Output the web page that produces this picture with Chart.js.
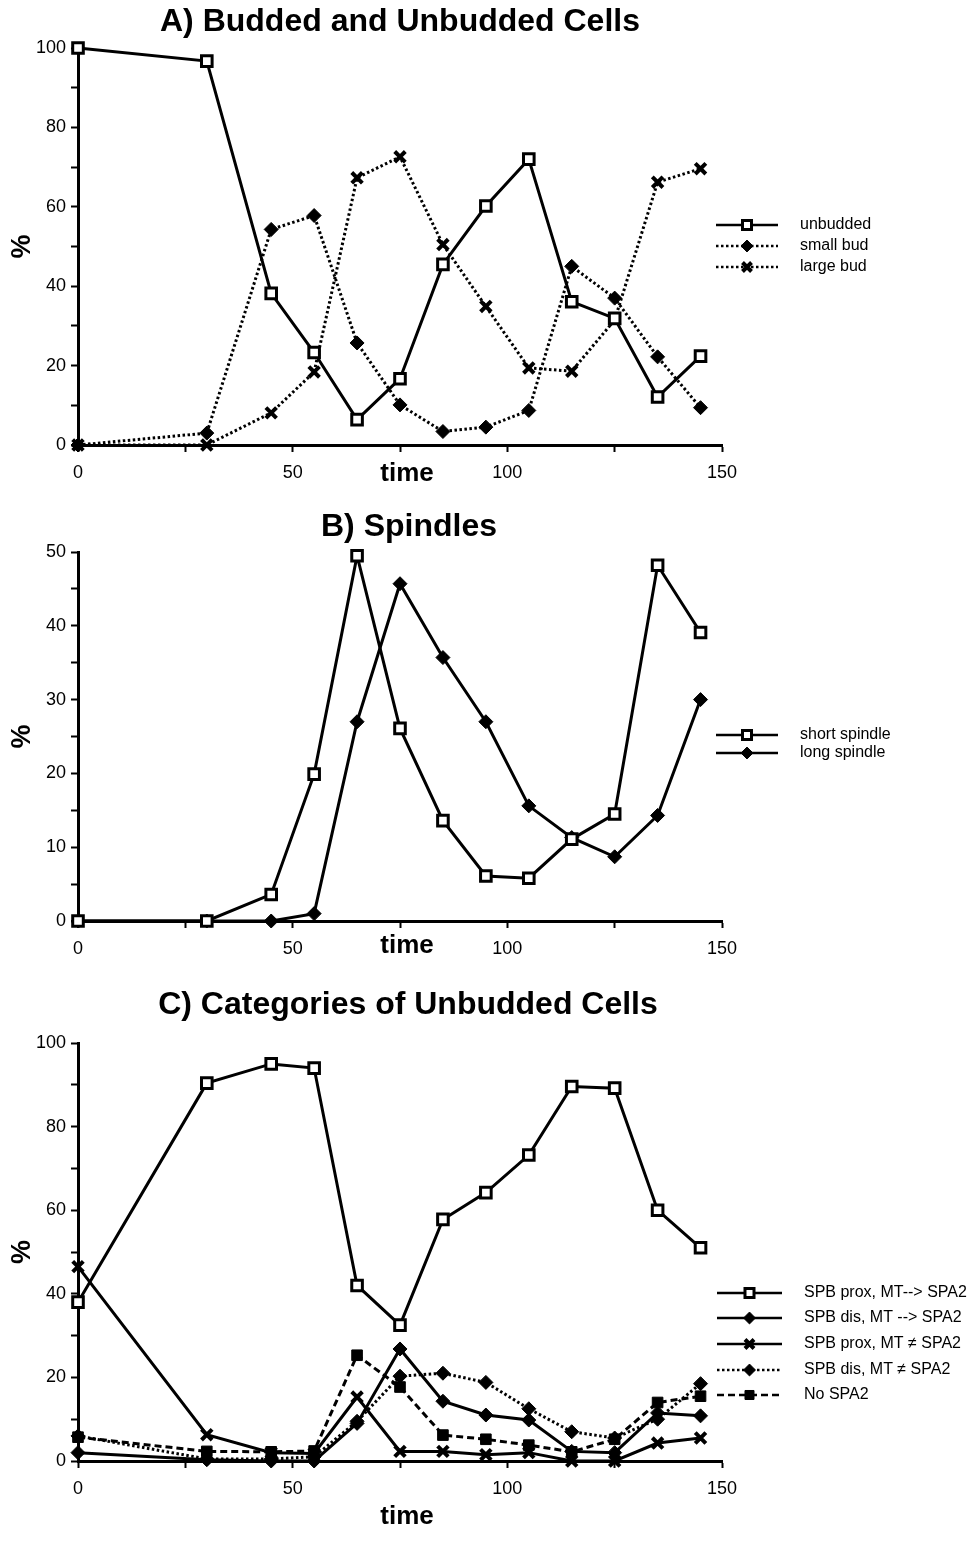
<!DOCTYPE html>
<html>
<head>
<meta charset="utf-8">
<script src="https://cdn.jsdelivr.net/npm/chart.js@4.4.1/dist/chart.umd.min.js"></script>
<style>
  html, body { margin: 0; padding: 0; background: #fff; }
  #wrap { position: relative; width: 969px; height: 1554px; }
  .panel { position: absolute; left: 0; width: 969px; }
</style>
</head>
<body>
<div id="wrap">
  <div class="panel" style="top:0;height:495px"><canvas id="chartA"></canvas></div>
  <div class="panel" style="top:495px;height:470px"><canvas id="chartB"></canvas></div>
  <div class="panel" style="top:965px;height:589px"><canvas id="chartC"></canvas></div>
</div>
<script>
// sampling times (min)
const times = [0, 30, 45, 55, 65, 75, 85, 95, 105, 115, 125, 135, 145];

// A) budded and unbudded cells (%)
const unbudded = [100, 96.7, 38.2, 23.3, 6.4, 16.7, 45.5, 60.2, 72, 36.1, 31.9, 12.1, 22.4];
const smallBud = [0, 3.0, 54.3, 57.8, 25.7, 10.1, 3.4, 4.5, 8.7, 45, 37, 22.2, 9.4];
const largeBud = [0, 0, 8.1, 18.4, 67.3, 72.6, 50.5, 34.9, 19.4, 18.6, 31.5, 66.2, 69.6];

// B) spindles (%)
const shortSpindle = [0, 0, 3.6, 19.9, 49.5, 26.1, 13.6, 6.1, 5.8, 11.1, 14.5, 48.2, 39.1];
const longSpindle = [0, 0, 0, 1.0, 27, 45.7, 35.7, 27, 15.6, 11.3, 8.7, 14.3, 30];

// C) categories of unbudded cells (%)
const proxToSpa2 = [38, 90.4, 95, 94, 42, 32.5, 57.8, 64.2, 73.2, 89.6, 89.2, 60, 51];
const disToSpa2 = [2, 0.3, 0, 0, 9, 26.8, 14.3, 11, 9.8, 2.3, 2, 11.5, 10.8];
const proxNotSpa2 = [46.5, 6.3, 2, 1.8, 15.3, 2.3, 2.3, 1.5, 2, 0, 0, 4.3, 5.5];
const disNotSpa2 = [6, 0.5, 0.5, 1, 9.5, 20.3, 21, 18.8, 12.5, 7, 5.5, 10, 18.5];
const noSpa2 = [5.7, 2.3, 2.2, 2.4, 25.3, 17.7, 6.2, 5.2, 3.8, 2.2, 5.2, 14, 15.5];

const xTicks = [0, 50, 100, 150];

const FONT = '"Liberation Sans", Arial, Helvetica, sans-serif';

function pts(vals) {
  return times.map((t, i) => ({ x: t, y: vals[i] }));
}

const MARK = {
  open:    { pointStyle: 'rect', pointRadius: 7.5, pointBorderWidth: 3, pointBackgroundColor: '#fff' },
  square:  { pointStyle: 'rect', pointRadius: 7.5, pointBorderWidth: 1, pointBackgroundColor: '#000' },
  diamond: { pointStyle: 'rectRot', pointRadius: 7, pointBorderWidth: 1, pointBackgroundColor: '#000' },
  cross:   { pointStyle: 'crossRot', pointRadius: 7.5, pointBorderWidth: 4, pointBackgroundColor: '#000' },
};
const DOTTED = [2.5, 2.5];
const DASHED = [7, 4];

function ds(label, vals, mark, dash) {
  return Object.assign({
    label,
    data: pts(vals),
    borderColor: '#000',
    borderWidth: 3,
    borderDash: dash || [],
    pointBorderColor: '#000',
    tension: 0,
    clip: false,
  }, MARK[mark]);
}

// title, "time" label and line+marker legend drawn on the canvas
const panelDecor = {
  id: 'panelDecor',
  afterDraw(chart, args, o) {
    const { ctx, chartArea } = chart;
    const cx = (chartArea.left + chartArea.right) / 2;
    ctx.save();
    ctx.fillStyle = '#000';
    ctx.textAlign = 'center';
    ctx.textBaseline = 'middle';
    ctx.font = 'bold 32px ' + FONT;
    ctx.fillText(o.title, cx + o.titleDx, o.titleY);
    ctx.font = 'bold 26px ' + FONT;
    ctx.fillText('time', cx + 7, chartArea.bottom + o.timeDy);

    chart.data.datasets.forEach((d, i) => {
      const y = o.legendY[i];
      ctx.strokeStyle = '#000';
      ctx.lineWidth = 2.5;
      ctx.setLineDash(d.borderDash || []);
      ctx.beginPath();
      ctx.moveTo(o.legendX0, y);
      ctx.lineTo(o.legendX1, y);
      ctx.stroke();
      ctx.setLineDash([]);
      ctx.fillStyle = d.pointBackgroundColor;
      ctx.strokeStyle = '#000';
      ctx.lineWidth = d.pointBorderWidth;
      Chart.helpers.drawPoint(ctx, {
        pointStyle: d.pointStyle, radius: d.pointRadius * 0.85, borderWidth: d.pointBorderWidth, rotation: 0
      }, (o.legendX0 + o.legendX1) / 2, y);
      ctx.fillStyle = '#000';
      ctx.textAlign = 'left';
      ctx.font = '16px ' + FONT;
      ctx.fillText(d.label, o.legendText, y);
    });
    ctx.restore();
  }
};

function makeChart(id, datasets, cfg) {
  return new Chart(document.getElementById(id), {
    type: 'line',
    data: { datasets },
    plugins: [panelDecor],
    options: {
      responsive: true,
      maintainAspectRatio: false,
      animation: false,
      events: [],
      layout: { padding: { top: cfg.top, right: 969 - 722, bottom: cfg.padBottom, left: 0 } },
      plugins: {
        legend: { display: false },
        tooltip: { enabled: false },
        panelDecor: cfg.decor,
      },
      scales: {
        x: {
          type: 'linear',
          min: 0,
          max: 150,
          afterFit: (s) => { s.height = 40; },
          ticks: {
            stepSize: 25,
            autoSkip: false,
            maxRotation: 0,
            color: '#000',
            padding: 10,
            font: { family: FONT, size: 18 },
            callback: (v) => (xTicks.includes(v) ? v : ''),
          },
          grid: { drawOnChartArea: false, tickLength: 7, tickWidth: 2, tickColor: '#000' },
          border: { color: '#000', width: 3 },
        },
        y: {
          min: 0,
          max: cfg.yMax,
          afterFit: (s) => { s.width = 78; },
          ticks: {
            stepSize: cfg.yStep,
            autoSkip: false,
            color: '#000',
            padding: 5,
            font: { family: FONT, size: 18 },
            callback: (v) => (v % cfg.yLabelEvery === 0 ? v : ''),
          },
          grid: { drawOnChartArea: false, tickLength: 7, tickWidth: 2, tickColor: '#000' },
          border: { color: '#000', width: 3 },
          title: {
            display: true,
            text: '%',
            color: '#000',
            font: { family: FONT, size: 27, weight: 'bold' },
            padding: { top: 6, bottom: 0 },
          },
        },
      },
    },
  });
}

makeChart('chartA', [
  ds('unbudded', unbudded, 'open'),
  ds('small bud', smallBud, 'diamond', DOTTED),
  ds('large bud', largeBud, 'cross', DOTTED),
], {
  top: 48, padBottom: 495 - 40 - 445, yMax: 100, yStep: 10, yLabelEvery: 20,
  decor: { title: 'A) Budded and Unbudded Cells', titleDx: 0, titleY: 22, timeDy: 29,
           legendX0: 716, legendX1: 778, legendText: 800, legendY: [225, 246, 267] },
});

makeChart('chartB', [
  ds('short spindle', shortSpindle, 'open'),
  ds('long spindle', longSpindle, 'diamond'),
], {
  top: 552 - 495, padBottom: 470 - 40 - (921 - 495), yMax: 50, yStep: 5, yLabelEvery: 10,
  decor: { title: 'B) Spindles', titleDx: 9, titleY: 527 - 495, timeDy: 25,
           legendX0: 716, legendX1: 778, legendText: 800, legendY: [735 - 495, 753 - 495] },
});

makeChart('chartC', [
  ds('SPB prox, MT--> SPA2', proxToSpa2, 'open'),
  ds('SPB dis, MT --> SPA2', disToSpa2, 'diamond'),
  ds('SPB prox, MT \u2260 SPA2', proxNotSpa2, 'cross'),
  ds('SPB dis, MT \u2260 SPA2', disNotSpa2, 'diamond', DOTTED),
  ds('No SPA2', noSpa2, 'square', DASHED),
], {
  top: 1043 - 965, padBottom: 589 - 40 - (1461 - 965), yMax: 100, yStep: 10, yLabelEvery: 20,
  decor: { title: 'C) Categories of Unbudded Cells', titleDx: 8, titleY: 1005 - 965, timeDy: 56,
           legendX0: 717, legendX1: 782, legendText: 804,
           legendY: [1293 - 965, 1318 - 965, 1344 - 965, 1370 - 965, 1395 - 965] },
});
</script>
</body>
</html>
